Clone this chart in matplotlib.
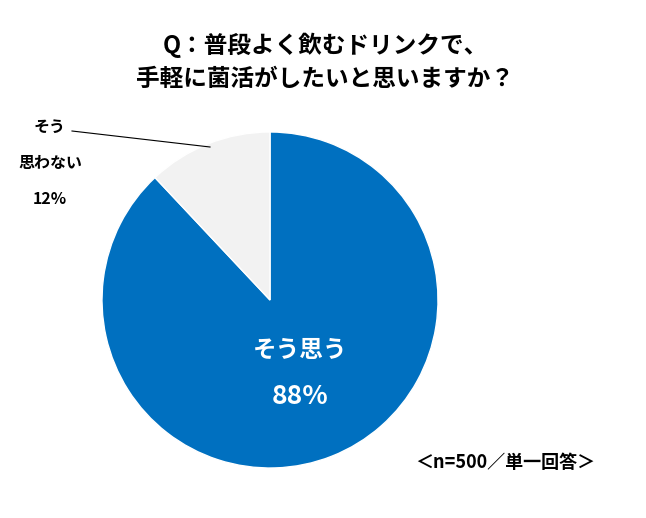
import matplotlib
matplotlib.use("Agg")
import matplotlib.pyplot as plt

labels = ["そう思う", "そう思わない"]
values = [88, 12]
colors = ["#0070c0", "#f2f2f2"]

plt.rcParams['font.family'] = ['Noto Sans CJK JP', 'DejaVu Sans']
W, H = 646, 518
fig = plt.figure(figsize=(W/100, H/100), dpi=100)
fig.patch.set_facecolor("white")

cx, cy, r = 270, 300, 168
ax = fig.add_axes([(cx-r)/W, 1-(cy+r)/H, 2*r/W, 2*r/H])
ax.pie(values, colors=colors, startangle=90, counterclock=False, radius=1,
       wedgeprops=dict(edgecolor="white", linewidth=1))
ax.set_xlim(-1, 1); ax.set_ylim(-1, 1); ax.set_aspect('equal'); ax.axis('off')

def t(x, y, s, size, color="black", ha="center"):
    fig.text(x/W, 1-y/H, s, fontsize=size, color=color, ha=ha, va="center", fontweight="bold")

t(325, 45, "Q：普段よく飲むドリンクで、", 17)
t(325, 79, "手軽に菌活がしたいと思いますか？", 17)
t(300, 350, "そう思う", 17, "white")
t(300, 397, "88%", 19, "white")
t(50, 127, "そう", 11.5)
t(50, 163, "思わない", 11.5)
t(50, 199, "12%", 11.5)
t(505, 462, "＜n=500／単一回答＞", 13)
fig.add_artist(plt.Line2D([72/W, 210/W], [1-131/H, 1-147/H], color="black", lw=0.8))

fig.savefig("out.png", dpi=100)
